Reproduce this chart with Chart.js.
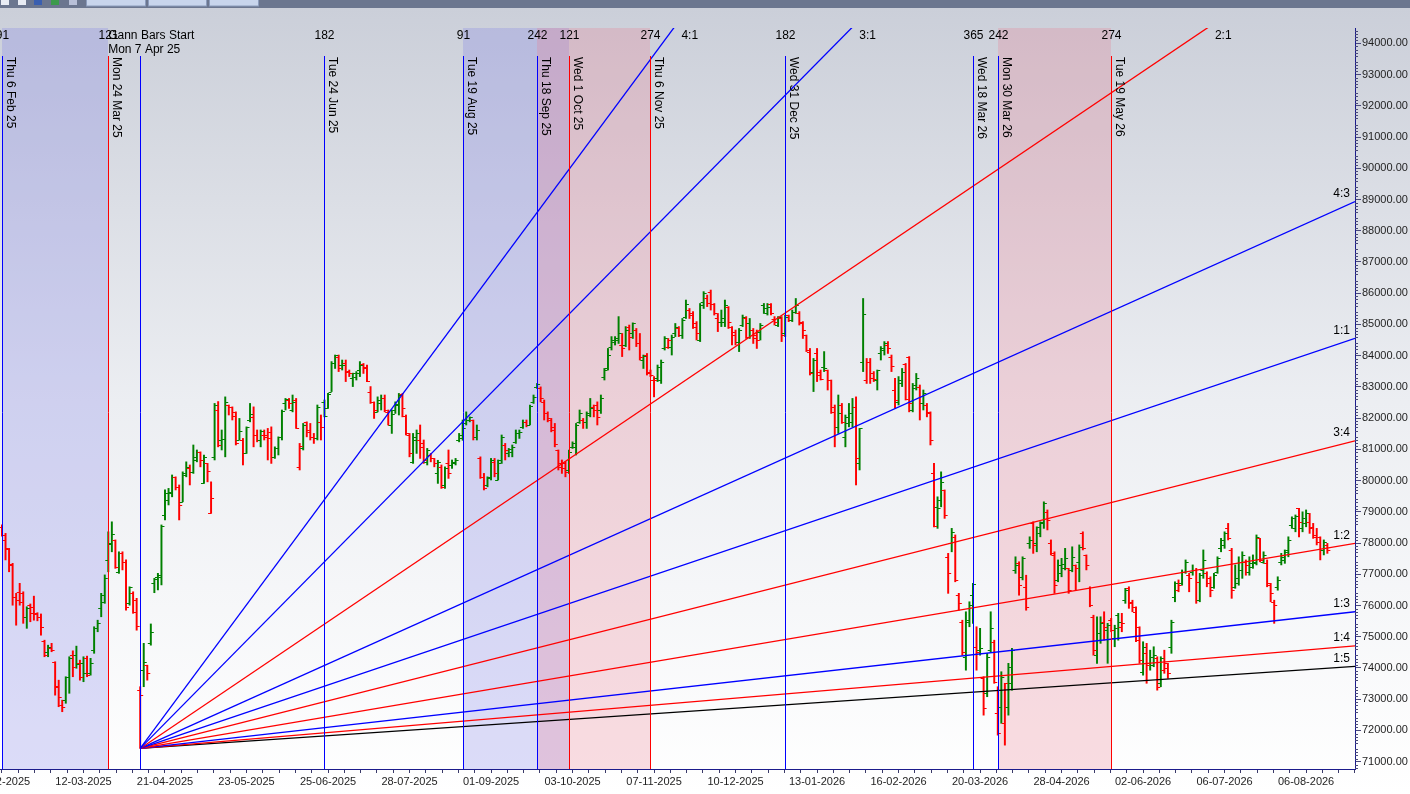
<!DOCTYPE html>
<html lang="en">
<head>
<meta charset="utf-8">
<title>Daily bars with Gann fan and time cycles</title>
<script src="https://cdn.jsdelivr.net/npm/chart.js@4.4.1/dist/chart.umd.min.js"></script>
<style>
  html, body { margin: 0; padding: 0; background: #fff; overflow: hidden; }
  #holder { width: 1410px; height: 794px; }
</style>
</head>
<body>
<div id="holder"><canvas id="chart" width="1410" height="794"></canvas></div>
<script>
// ---------------- data ----------------
// x axis = trading-day index, 0 = Thu 6 Feb 2025
const tickLabels = ['06-02-2025','12-03-2025','21-04-2025','23-05-2025','25-06-2025','28-07-2025',
  '01-09-2025','03-10-2025','07-11-2025','10-12-2025','13-01-2026','16-02-2026','20-03-2026',
  '28-04-2026','02-06-2026','06-07-2026','06-08-2026'];
const barsPerLabel = 23;
const priceTickMin = 71000, priceTickMax = 94000, priceTickStep = 500;

const barOpen = [
  78500,78100,77800,77330,76280,76440,76390,75640,76010,75960,
  75750,75640,74870,74520,74630,74200,73420,72810,72970,73720,
  74410,74410,74150,74150,74310,73830,74590,75270,75910,76120,
  77460,77990,78100,77080,77670,77400,76070,76390,76170,73300,
  73930,74090,74790,76710,76920,76920,78900,79380,79590,80100,
  79800,79320,80180,80390,80280,80760,80920,79910,80550,78950,
  80760,82260,81300,81320,82420,82360,82200,81300,81300,80870,
  81940,82040,81460,81300,81460,81460,81560,80760,81030,81400,
  82470,82580,82260,82580,80440,81030,81880,81560,81400,81350,
  81880,82520,82310,82850,83750,83970,83700,83750,83520,83270,
  83330,83540,83730,83590,82850,82520,82200,82470,82630,82200,
  81780,82260,82420,82770,82070,81460,80600,81300,81300,81190,
  80600,80820,80710,80230,80440,79860,80550,80500,80550,81300,
  81350,81830,81940,81940,81400,80710,80120,79860,80120,80600,
  80020,80660,81140,80870,80920,81240,81510,81720,81880,81780,
  82520,83000,82950,82520,82150,81940,81720,80980,80550,80550,
  80340,81080,81080,81880,81940,81880,82100,82360,82420,82260,
  83330,83590,84290,84450,84550,84340,84340,84930,84710,84820,
  84390,83860,84020,83490,83220,83270,83220,84230,84290,84290,
  84710,84870,84660,85250,85460,85300,85030,84500,85730,85830,
  86050,85650,85190,85090,85090,85570,84930,84770,84450,84980,
  85190,85030,84820,84660,84770,85620,85350,85650,85160,84980,
  85190,84710,85300,85140,85410,85350,85030,84660,84130,83490,
  84070,83490,83650,83540,83220,82360,81720,82420,81400,81830,
  81880,82360,80550,83810,83220,83810,83430,83220,84070,84180,
  84340,83970,82900,82530,83110,83730,83970,82260,83060,83010,
  82470,82420,82150,80230,79160,79380,79700,77560,77990,78200,
  76330,75480,74360,75530,76330,74680,74570,73670,73190,74570,
  74840,72550,72760,72230,72760,73510,77140,77350,76920,76600,
  77990,78630,77990,78310,78680,79000,77990,77620,76810,77030,
  77190,77190,77140,77300,77400,78310,77620,76550,75640,74410,
  74890,75480,75210,75530,74950,75690,75320,76170,76550,76120,
  75800,75320,73880,74470,74150,74090,74310,73510,73930,74150,
  74680,76280,76490,76710,77080,76970,77080,77140,76170,77140,
  77030,76870,76600,77080,77830,77940,78470,77780,76600,76870,
  77140,77400,77080,77240,77350,78150,77400,77350,76650,76120,
  76600,77400,77460,77780,78580,78470,79110,78470,78630,78680,
  78520,78260,78200,77780,77940];
const barHigh = [
  78580,78310,77830,77350,76390,76710,76440,75960,76050,76300,
  75770,75730,74890,74730,74790,74200,73610,72970,73720,74360,
  74550,74700,74250,74360,74380,74310,75320,75530,76390,76980,
  78360,78680,78100,77720,77720,77460,76600,76440,76230,73400,
  74790,74090,75410,76870,77030,78580,79700,79750,80180,80120,
  79860,80280,80600,80500,81140,80980,80920,80820,80550,79960,
  82470,82530,81620,82680,82420,82360,82200,81990,81350,81720,
  82470,82360,81620,81620,81620,81670,81720,81080,81400,82260,
  82630,82630,82740,82630,81190,81830,81880,81830,81510,82420,
  82100,82580,82790,83810,84020,84020,83860,83860,83540,83440,
  83490,83810,83750,83700,83010,82520,82680,82740,82740,82260,
  82260,82520,82790,82790,82100,81510,81510,81620,81780,81300,
  81030,80870,80710,80650,80500,80440,80980,80660,80710,81510,
  81940,82200,82040,81940,81780,80760,80230,80120,80710,80710,
  80660,81460,81190,81030,81140,81620,81620,81940,81940,82420,
  82740,83110,83000,82580,82200,81990,81830,80980,80660,80600,
  80980,81240,81830,82260,81990,82200,82630,82420,82520,82740,
  83590,84230,84610,84610,85250,84710,84930,84980,85050,84870,
  84710,84020,84070,83540,83330,83700,83860,84610,84550,84660,
  85030,84930,85190,85780,85510,85410,85090,85670,86050,85940,
  86100,85670,85350,85460,85780,85570,84930,84820,84870,85300,
  85250,85190,84870,84820,85030,85670,85670,85670,85250,85250,
  85250,85300,85300,85460,85830,85410,85090,84660,84230,83910,
  84230,83540,84130,83540,83220,82420,82740,82470,82100,82470,
  82630,82680,81670,85830,83910,83910,83490,83540,84290,84450,
  84450,84020,83270,83330,83590,83750,83970,83110,83430,83060,
  82900,82470,82200,80550,79480,80280,79700,77670,78470,78260,
  76390,75530,75800,76120,76710,75320,75270,73720,74470,75800,
  74890,73400,73880,73510,74150,74630,77560,77400,77560,76970,
  78200,78680,78520,78680,79320,79060,78100,77720,77460,77510,
  77830,77190,77880,77300,77940,78360,77620,76600,75690,75640,
  75640,75800,75430,75590,75370,75750,75750,76550,76600,76170,
  75960,75320,74840,74790,74570,74680,74360,74360,74570,74150,
  75530,76760,76820,77140,77460,77030,77300,77190,77030,77780,
  77080,76920,77030,77560,78150,78360,78630,77830,77300,77560,
  77720,77460,77560,77620,78260,78150,77720,77460,76710,76170,
  76920,77670,77780,78200,78840,78900,79110,79000,79060,78950,
  78630,78470,78200,78100,77990];
const barLow = [
  78220,77460,77080,76010,75370,76010,75430,75270,75480,75530,
  75510,75050,74360,74360,74520,73130,72760,72600,72870,73190,
  73720,73990,73610,73560,73720,73770,74470,75160,75640,76070,
  77080,77720,77190,77030,77140,75850,76010,75750,75210,71425,
  73400,73610,74730,76410,76500,76660,78740,79220,79480,79700,
  78740,79320,80120,79860,80230,80600,80440,79910,79960,78950,
  80660,81080,80980,80760,82100,81940,81140,81300,80500,80870,
  81880,81080,81240,81080,81300,80660,80550,80710,80820,81300,
  82260,82310,82200,81670,80340,80980,81400,81300,81190,81300,
  81300,82040,82310,82850,83590,83490,83540,83170,83330,83010,
  83220,83330,83430,83170,82470,81990,82200,82260,82200,81780,
  81510,82150,82100,82040,81460,80760,80550,80870,80710,80550,
  80500,80600,80440,79910,79750,79750,80070,80390,80500,81240,
  81290,81780,81880,81300,81300,80070,79700,79800,80020,80120,
  80020,80550,80660,80760,80760,81190,81350,81670,81720,81780,
  82470,82950,82520,81940,81880,81560,81080,80340,80230,80120,
  80230,81030,80820,81830,81670,81670,82040,82040,81780,82150,
  83220,83540,84180,84340,84390,83970,84290,84180,84550,84290,
  83860,83590,83380,83330,82680,83170,83110,84180,84230,84020,
  84610,84610,84550,85190,85190,84870,84500,84450,85510,85570,
  85460,85300,84770,84930,84930,84870,84340,84340,84130,84930,
  84550,84550,84390,84230,84500,85350,85300,85300,84980,84930,
  84450,84610,85090,85090,85350,84980,84550,84130,83380,82850,
  83170,83220,83490,82900,82150,81080,81510,81830,81080,81720,
  81720,79860,80340,83490,83110,83110,83170,82900,83860,84020,
  84070,83490,82310,82420,83010,82580,82200,82200,82900,81940,
  82260,82040,81140,78520,78470,79160,78790,76390,77720,76760,
  75850,74410,73930,75320,75430,73930,74410,72490,73080,74520,
  73510,71850,72230,71530,72490,73290,77030,76330,76820,75850,
  77830,77670,77720,78200,78470,78420,77620,76390,76760,76920,
  77140,76390,77080,76490,76760,77780,77140,75960,74410,74150,
  74790,74890,74150,75160,74680,74890,75160,76070,75910,75800,
  74840,74150,73770,73510,73930,74040,73290,73400,73830,73670,
  74470,76120,76440,76650,77030,76440,76970,76070,76120,76870,
  76600,76280,76550,77030,77720,77830,78100,76230,76550,76650,
  76870,76970,76970,77190,77300,77400,77350,76600,76120,75430,
  76490,77300,77350,77560,78470,78360,78200,78360,78520,78310,
  78150,77940,77460,77620,77670];
const barClose = [
  78260,77830,77300,76280,76170,76120,75640,75910,75750,75730,
  75640,75320,74410,74680,74590,73400,73060,72760,73720,74310,
  74040,74130,73720,73830,73770,74170,75270,75450,76330,76870,
  77970,78290,77240,77670,77400,75960,76600,75800,75350,73130,
  74200,73830,75140,76850,76980,78540,79590,79640,80120,79800,
  79220,80230,80440,80280,80660,80920,80660,80760,80320,79430,
  82420,81140,81330,82520,82360,82060,81190,81600,80890,81700,
  82130,81460,81300,81600,81400,81350,80760,81030,81400,82240,
  82600,82470,82520,81670,81120,81780,81620,81400,81350,82360,
  81720,82070,82760,83750,84020,83590,83700,83490,83430,83440,
  83450,83700,83650,83190,82520,82260,82580,82630,82260,81780,
  82130,82450,82740,82310,81510,80870,81400,81510,81080,80660,
  80980,80710,80550,80600,79800,80390,80230,80600,80660,81460,
  81670,81940,82020,81400,81620,80120,79750,80070,80660,80230,
  80550,81400,80980,81000,81080,81510,81560,81880,81780,82390,
  82680,83090,82630,82150,81990,81620,81160,80440,80400,80280,
  80920,81190,81780,82150,81880,82150,82310,82260,82040,82630,
  83540,84020,84500,84510,84710,84230,84820,84610,85030,84390,
  83970,83990,83430,83380,83220,83650,83810,84550,84500,84610,
  84930,84660,85140,85650,85350,84930,84710,85620,85990,85670,
  85650,85350,85090,85190,85620,85090,84660,84450,84820,85250,
  84610,84820,84550,84500,84980,85510,85550,85350,85090,85230,
  84660,85250,85140,85410,85620,85090,84820,84180,83430,83860,
  83380,83240,83590,83220,82200,81720,82150,81880,82040,82150,
  82360,80710,81670,85330,83810,83270,83240,83540,84230,84390,
  84230,83670,82580,83220,83490,82600,82470,82980,83270,82470,
  82790,82200,81300,78540,79110,79960,78900,77030,78360,76820,
  76070,74520,75480,76010,76680,74520,74630,72710,74360,75270,
  73560,71910,73720,73510,74040,74570,77300,76650,77510,75960,
  78100,77940,78520,78630,79270,78740,77670,76650,77300,77320,
  77510,76490,77560,77190,77880,77830,77300,76010,74570,75110,
  75430,75320,75370,75210,75270,75480,75430,76490,76070,75960,
  74890,74250,74680,74090,74360,74410,73400,74310,73990,73830,
  75480,76710,76650,77080,77400,76870,77140,76760,76970,77460,
  76710,76490,76970,77510,78100,78310,78150,76490,76710,77140,
  77620,77300,77350,77400,78200,77460,77620,76710,76390,76010,
  76810,77560,77720,78100,78790,78870,78680,78790,78950,78470,
  78200,78040,77780,78040,77780];

// Gann fan: start bar (Mon 7 Apr 25 low) and one price unit per bar for 1:1
const gannStartIndex = 39;
const gannStartPrice = 71425;
const gannUnit = 38.3;
const fanLabel = ['4:1', '3:1', '2:1', '4:3', '1:1', '3:4', '1:2', '1:3', '1:4', '1:5'];
const fanRatio = [4, 3, 2, 4 / 3, 1, 3 / 4, 1 / 2, 1 / 3, 1 / 4, 1 / 5];

// time-cycle lines
const cycleIndex = [0, 30, 39, 91, 130, 151, 160, 183, 221, 274, 281, 313];
const cycleCount = ['91', '121', '', '182', '91', '242', '121', '274', '182', '365', '242', '274'];
const cycleDate = ['Thu 6 Feb 25', 'Mon 24 Mar 25', '', 'Tue 24 Jun 25', 'Tue 19 Aug 25',
  'Thu 18 Sep 25', 'Wed 1 Oct 25', 'Thu 6 Nov 25', 'Wed 31 Dec 25', 'Wed 18 Mar 26',
  'Mon 30 Mar 26', 'Tue 19 May 26'];
const zoneFrom = [0, 130, 151, 281];
const zoneTo = [30, 160, 183, 313];

// ---------------- styles ----------------
const BLUE = '#0000ff', RED = '#ff0000', BLACK = '#000000';
const UP = '#008000', DOWN = '#ff0000';
const FAN_COLORS = [BLUE, BLUE, RED, BLUE, BLUE, RED, RED, BLUE, RED, BLACK];
const CYCLE_COLORS = [BLUE, RED, BLUE, BLUE, BLUE, BLUE, RED, RED, BLUE, BLUE, BLUE, RED];
const ZONE_COLORS = ['rgba(125,125,232,0.26)', 'rgba(125,125,232,0.26)',
  'rgba(236,120,140,0.25)', 'rgba(236,120,140,0.25)'];
const FONT = '"Liberation Sans", Arial, sans-serif';
const AXIS = '#1c1c8c';

// axis window (trading days / price) so the plot fills the frame
const X_MIN = -0.56, X_MAX = 381.8;
const Y_MIN = 70766, Y_MAX = 94490;

const barColors = barClose.map((c, i) =>
  (i === 0 ? c < barOpen[0] : c < barClose[i - 1]) ? DOWN : UP);

const ohlcRange = {
  type: 'bar',
  label: 'bars',
  data: barOpen.map((_, i) => ({ x: i, y: [barLow[i], barHigh[i]] })),
  backgroundColor: barColors,
  borderWidth: 0,
  barThickness: 1.3,
  order: 1
};

const fanSets = fanLabel.map((lab, k) => ({
  type: 'line',
  label: lab,
  data: [
    { x: gannStartIndex, y: gannStartPrice },
    { x: X_MAX, y: gannStartPrice + fanRatio[k] * gannUnit * (X_MAX - gannStartIndex) }
  ],
  borderColor: FAN_COLORS[k],
  borderWidth: 1.3,
  pointRadius: 0,
  tension: 0,
  order: 0
}));

const gannPlugin = {
  id: 'gannDecor',
  beforeDraw(chart) {
    const { ctx, width, height } = chart;
    ctx.save();
    const g = ctx.createLinearGradient(0, 8, 0, height);
    g.addColorStop(0, '#cbcfd9');
    g.addColorStop(0.5, '#eceef2');
    g.addColorStop(1, '#ffffff');
    ctx.fillStyle = g;
    ctx.fillRect(0, 0, width, height);
    // window toolbar strip
    ctx.fillStyle = '#6b768f';
    ctx.fillRect(0, 0, width, 8);
    ctx.fillStyle = '#c8d5ec';
    ctx.strokeStyle = '#8c9cbc';
    [[86, 60], [148, 59], [209, 50]].forEach(([bx, bw]) => {
      ctx.fillRect(bx, 0, bw, 6);
      ctx.strokeRect(bx + 0.5, -1, bw - 1, 7);
    });
    [['#e8ecf4', 1], ['#e8ecf4', 18], ['#3a5fb0', 34], ['#3c9a4c', 51], ['#b8c0d8', 69]]
      .forEach(([c, bx]) => { ctx.fillStyle = c; ctx.fillRect(bx, 0, 8, 5); });
    ctx.restore();
  },
  beforeDatasetsDraw(chart) {
    const { ctx, chartArea: a, scales: { x } } = chart;
    ctx.save();
    zoneFrom.forEach((s, k) => {
      const x0 = Math.round(x.getPixelForValue(s));
      const x1 = Math.round(x.getPixelForValue(zoneTo[k]));
      ctx.fillStyle = ZONE_COLORS[k];
      ctx.fillRect(x0, a.top, x1 - x0, a.bottom - a.top);
    });
    ctx.restore();
  },
  afterDatasetDraw(chart, args) {
    if (args.index !== 0) return;
    const { ctx, chartArea: a, scales: { x, y } } = chart;
    ctx.save();
    ctx.beginPath();
    ctx.rect(a.left, a.top, a.right - a.left, a.bottom - a.top);
    ctx.clip();
    ctx.lineWidth = 1.2;
    barOpen.forEach((o, i) => {
      const px = x.getPixelForValue(i);
      const po = Math.round(y.getPixelForValue(o)) + 0.5;
      const pc = Math.round(y.getPixelForValue(barClose[i])) + 0.5;
      ctx.strokeStyle = barColors[i];
      ctx.beginPath();
      ctx.moveTo(px - 3, po); ctx.lineTo(px, po);
      ctx.moveTo(px, pc); ctx.lineTo(px + 3, pc);
      ctx.stroke();
    });
    ctx.restore();
  },
  afterDatasetsDraw(chart) {
    const { ctx, chartArea: a, scales: { x, y } } = chart;
    ctx.save();
    ctx.font = '12px ' + FONT;
    ctx.fillStyle = '#000';
    // cycle lines with counts and dates
    cycleIndex.forEach((idx, k) => {
      const px = Math.round(x.getPixelForValue(idx)) + 0.5;
      ctx.strokeStyle = CYCLE_COLORS[k];
      ctx.lineWidth = 1;
      ctx.beginPath();
      ctx.moveTo(px, a.top + 28);
      ctx.lineTo(px, a.bottom);
      ctx.stroke();
      if (cycleCount[k]) {
        ctx.textAlign = 'center';
        ctx.textBaseline = 'middle';
        ctx.fillText(cycleCount[k], px, a.top + 8);
      }
      if (cycleDate[k]) {
        ctx.save();
        ctx.translate(px + 2, a.top + 29);
        ctx.rotate(Math.PI / 2);
        ctx.textAlign = 'left';
        ctx.textBaseline = 'bottom';
        ctx.fillText(cycleDate[k], 0, 0);
        ctx.restore();
      }
    });
    // gann start caption
    const gx = x.getPixelForValue(gannStartIndex) - 32;
    ctx.textAlign = 'left';
    ctx.textBaseline = 'middle';
    ctx.fillText('Gann Bars Start', gx, a.top + 8);
    ctx.fillText('Mon 7 Apr 25', gx, a.top + 22);
    // fan labels
    fanLabel.forEach((lab, k) => {
      const slope = fanRatio[k] * gannUnit;
      const iTop = gannStartIndex + (y.max - gannStartPrice) / slope;
      if (iTop < x.max) {
        ctx.textAlign = 'center';
        ctx.fillText(lab, x.getPixelForValue(iTop) + 16, a.top + 8);
      } else {
        const pEnd = gannStartPrice + slope * (x.max - gannStartIndex);
        ctx.textAlign = 'right';
        ctx.fillText(lab, a.right - 5, y.getPixelForValue(pEnd) - 8);
      }
    });
    ctx.restore();
  },
  afterDraw(chart) {
    const { ctx, chartArea: a, scales: { y } } = chart;
    ctx.save();
    ctx.strokeStyle = '#4a4a7a';
    ctx.lineWidth = 1;
    ctx.beginPath();
    for (let v = Math.ceil(y.min / 100) * 100; v <= y.max; v += 100) {
      if (v % priceTickStep === 0) continue;
      const py = Math.round(y.getPixelForValue(v)) + 0.5;
      ctx.moveTo(a.right, py);
      ctx.lineTo(a.right + 3, py);
    }
    ctx.stroke();
    ctx.restore();
  }
};

new Chart(document.getElementById('chart').getContext('2d'), {
  type: 'line',
  data: { datasets: [ohlcRange, ...fanSets] },
  options: {
    responsive: false,
    animation: false,
    events: [],
    layout: { padding: { top: 28, left: 0, right: 0, bottom: 0 } },
    plugins: { legend: { display: false }, tooltip: { enabled: false } },
    scales: {
      x: {
        type: 'linear',
        position: 'bottom',
        min: X_MIN,
        max: X_MAX,
        offset: false,
        grid: { drawOnChartArea: false, offset: false, tickLength: 4, color: '#3a3a6a' },
        border: { color: AXIS, width: 1 },
        ticks: {
          autoSkip: false, maxRotation: 0, minRotation: 0, padding: 2,
          color: '#1e1e1e', font: { family: FONT, size: 11 },
          callback: (v, i) => (i % 5 === 0 ? (tickLabels[i / 5] || '') : '')
        },
        afterBuildTicks: s => {
          const step = barsPerLabel / 5;
          s.ticks = [];
          for (let k = 0; k * step <= X_MAX; k++) s.ticks.push({ value: k * step });
        },
        afterFit: s => { s.height = 25; s.paddingLeft = 0; s.paddingRight = 0; }
      },
      y: {
        type: 'linear',
        position: 'right',
        min: Y_MIN,
        max: Y_MAX,
        grid: { drawOnChartArea: false, tickLength: 6, color: '#4a4a7a' },
        border: { color: AXIS, width: 1 },
        ticks: {
          padding: 1, color: '#1e1e1e', font: { family: FONT, size: 11 },
          callback: v => Number(v).toFixed(2)
        },
        afterBuildTicks: s => {
          s.ticks = [];
          for (let v = priceTickMin; v <= priceTickMax; v += priceTickStep) s.ticks.push({ value: v });
        },
        afterFit: s => { s.width = 55; s.paddingTop = 0; s.paddingBottom = 0; }
      }
    }
  },
  plugins: [gannPlugin]
});
</script>
</body>
</html>
